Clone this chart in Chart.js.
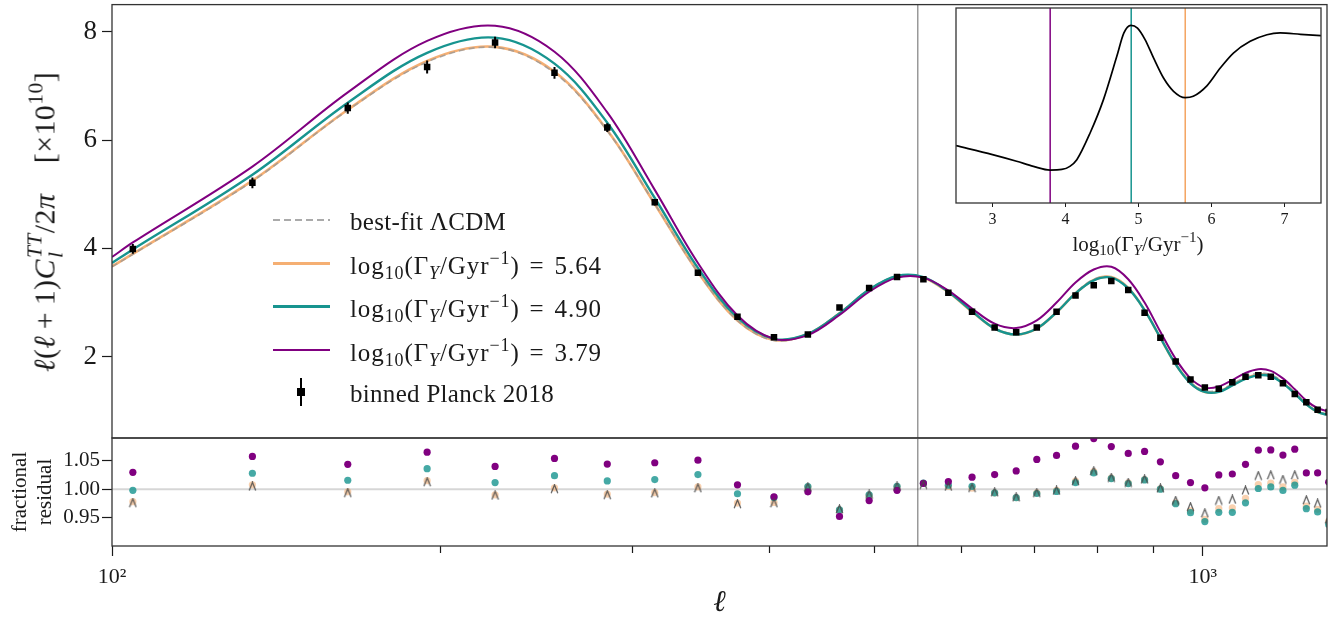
<!DOCTYPE html>
<html>
<head>
<meta charset="utf-8">
<title>CMB TT power spectrum with decaying-species models</title>
<script src="https://cdn.jsdelivr.net/npm/chart.js@4.4.1/dist/chart.umd.min.js"></script>
<style>
  html, body { margin: 0; padding: 0; background: #fff; }
  #fig { position: relative; width: 1342px; height: 620px; overflow: hidden; background: #fff;
         font-family: 'Liberation Serif', 'DejaVu Serif', serif; color: #1a1a1a; }
  #fig canvas { position: absolute; left: 0; top: 0; }
  .txt { position: absolute; white-space: nowrap; line-height: 1; }
  sub, sup { font-size: 0.72em; line-height: 0; }
  sub { vertical-align: -0.3em; }
  sup { vertical-align: 0.55em; }
  .stack { display: inline-block; font-size: 0.72em; line-height: 0.95; vertical-align: -0.35em; margin-left: 1px; }
  .stack span { display: block; }
  .op { margin: 0 0.22em; }
  #ylab { left: 45px; top: 222px; font-size: 30px; letter-spacing: 0.4px; transform: translate(-50%, -50%) rotate(-90deg); }
  #xlabInset { left: 1138px; top: 244px; font-size: 21px; transform: translate(-50%, -50%); }
  #legend { position: absolute; left: 273px; top: 198px; font-size: 25px; letter-spacing: 0.3px; }
  .row { display: flex; align-items: center; height: 43.5px; }
  .sym { width: 57px; height: 28px; position: relative; margin-right: 20px; flex: none; }
  .sym .ln { position: absolute; left: 0; right: 0; top: 12.5px; height: 3px; }
  .sym .bar { position: absolute; left: 27px; top: 0; width: 2px; height: 28px; background: #000; }
  .sym .sq { position: absolute; left: 24px; top: 10px; width: 8px; height: 8px; background: #000; }
  .row .t { padding-top: 5px; white-space: nowrap; }
  .row .t.m { letter-spacing: 0.9px; }
</style>
</head>
<body>
<div id="fig">
  <canvas id="cMain" width="1342" height="620"></canvas>
  <canvas id="cRes" width="1342" height="620"></canvas>
  <canvas id="cInset" width="1342" height="620"></canvas>
  <div class="txt" id="ylab"><i>ℓ</i>(<i>ℓ</i><span class="op">+</span>1)<i>C</i><span class="stack"><span><i>TT</i></span><span><i>l</i></span></span>/2<i>π</i>&emsp;[×10<sup>10</sup>]</div>
  <div class="txt" id="xlabInset">log<sub>10</sub>(Γ<sub><i>Y</i></sub>/Gyr<sup>−1</sup>)</div>
  <div id="legend"></div>
</div>
<script>
// ---- binned Planck 2018 TT bandpowers, l(l+1)C_l/2pi in units of 1e-10 ----
const binEll = [104.5, 134.5, 164.5, 194.5, 224.5, 254.5, 284.5, 314.5, 344.5, 374.5,
                404.5, 434.5, 464.5, 494.5, 524.5, 554.5, 584.5, 614.5, 644.5, 674.5,
                704.5, 734.5, 764.5, 794.5, 824.5, 854.5, 884.5, 914.5, 944.5, 974.5,
                1004.5, 1034.5, 1064.5, 1094.5, 1124.5, 1154.5, 1184.5, 1214.5, 1244.5, 1274.5, 1304.5];
const planckDl = [3.99, 5.21, 6.59, 7.35, 7.80, 7.24, 6.23, 4.85, 3.55, 2.74,
                  2.36, 2.41, 2.91, 3.27, 3.47, 3.43, 3.18, 2.83, 2.54, 2.45,
                  2.54, 2.83, 3.13, 3.32, 3.40, 3.23, 2.81, 2.35, 1.91, 1.58,
                  1.43, 1.41, 1.53, 1.63, 1.66, 1.63, 1.51, 1.31, 1.16, 1.02, 0.98];
const planckErr = [0.09, 0.10, 0.105, 0.12, 0.107, 0.107, 0.08, 0.06, 0.05, 0.045,
                   0.04, 0.04, 0.04, 0.04, 0.04, 0.035, 0.035, 0.035, 0.03, 0.03,
                   0.03, 0.03, 0.03, 0.03, 0.03, 0.03, 0.03, 0.03, 0.03, 0.03,
                   0.03, 0.03, 0.03, 0.03, 0.03, 0.03, 0.03, 0.03, 0.03, 0.03, 0.03];

// ---- theory spectra ----
const curveEll = [100, 104.5, 134.5, 164.5, 194.5, 224.5, 254.5, 284.5, 314.5, 344.5, 374.5,
                  404.5, 434.5, 464.5, 494.5, 524.5, 554.5, 584.5, 614.5, 644.5, 674.5,
                  704.5, 734.5, 764.5, 794.5, 824.5, 854.5, 884.5, 914.5, 944.5, 974.5,
                  1004.5, 1034.5, 1064.5, 1094.5, 1124.5, 1154.5, 1184.5, 1214.5, 1244.5, 1274.5, 1304.5];
const dlLCDM   = [3.66, 3.89, 5.24, 6.55, 7.44, 7.71, 7.24, 6.17, 4.82, 3.56, 2.67,
                  2.30, 2.42, 2.81, 3.24, 3.49, 3.46, 3.19, 2.84, 2.53, 2.42,
                  2.52, 2.82, 3.18, 3.43, 3.47, 3.27, 2.86, 2.35, 1.87, 1.53,
                  1.37, 1.38, 1.50, 1.63, 1.70, 1.67, 1.54, 1.34, 1.14, 0.99, 0.93];
const dlG564   = [3.67, 3.90, 5.25, 6.56, 7.46, 7.72, 7.26, 6.18, 4.82, 3.56, 2.67,
                  2.31, 2.42, 2.80, 3.23, 3.48, 3.46, 3.19, 2.83, 2.52, 2.41,
                  2.52, 2.82, 3.17, 3.42, 3.47, 3.27, 2.86, 2.35, 1.86, 1.52,
                  1.35, 1.36, 1.48, 1.60, 1.67, 1.65, 1.52, 1.33, 1.13, 0.98, 0.93];
const dlG490   = [3.73, 3.98, 5.36, 6.69, 7.61, 7.89, 7.41, 6.32, 4.93, 3.64, 2.72,
                  2.33, 2.42, 2.80, 3.24, 3.49, 3.47, 3.20, 2.84, 2.52, 2.41,
                  2.52, 2.82, 3.17, 3.41, 3.46, 3.26, 2.86, 2.35, 1.86, 1.51,
                  1.35, 1.35, 1.47, 1.59, 1.66, 1.64, 1.51, 1.32, 1.12, 0.98, 0.92];
const dlG379   = [3.84, 4.11, 5.51, 6.88, 7.83, 8.11, 7.63, 6.51, 5.08, 3.73, 2.76,
                  2.33, 2.40, 2.77, 3.20, 3.46, 3.46, 3.22, 2.89, 2.61, 2.53,
                  2.67, 3.00, 3.37, 3.61, 3.66, 3.43, 3.00, 2.46, 1.96, 1.60,
                  1.43, 1.45, 1.57, 1.70, 1.77, 1.74, 1.60, 1.40, 1.19, 1.05, 0.99];

// ---- fractional residuals (model / data) at the bin centres ----
const resLCDM = [0.976, 1.005, 0.9936, 1.0128, 0.989, 1.0006, 0.990, 0.993, 1.002, 0.974,
                 0.9756, 1.0035, 0.965, 0.9907, 1.005, 1.008, 1.0047, 1.0023, 0.9948, 0.986,
                 0.9936, 0.9977, 1.0145, 1.032, 1.0203, 1.0116, 1.0174, 1.0017, 0.980, 0.969,
                 0.958, 0.980, 0.982, 0.998, 1.0238, 1.025, 1.0169, 1.025, 0.981, 0.975, 0.947];
const resG564 = [0.978, 1.0076, 0.9953, 1.015, 0.990, 1.0023, 0.9913, 0.994, 1.004, 0.9756,
                 0.9767, 1.0035, 0.963, 0.989, 1.004, 1.010, 1.0047, 1.0017, 0.9936, 0.985,
                 0.9936, 0.998, 1.014, 1.031, 1.0195, 1.011, 1.017, 1.0006, 0.976, 0.962,
                 0.947, 0.9657, 0.967, 0.984, 1.008, 1.0105, 1.004, 1.012, 0.970, 0.9645, 0.944];
const resG490 = [0.998, 1.028, 1.0157, 1.036, 1.0116, 1.0238, 1.0145, 1.0169, 1.0256, 0.9919,
                 0.9855, 1.0047, 0.9634, 0.990, 1.005, 1.0105, 1.007, 1.005, 0.9936, 0.985,
                 0.9924, 0.996, 1.0116, 1.0285, 1.0186, 1.0099, 1.0163, 1.000, 0.9744, 0.9587,
                 0.943, 0.9593, 0.9593, 0.976, 1.0012, 1.004, 0.9977, 1.007, 0.9657, 0.960, 0.938];
const resG379 = [1.0297, 1.0576, 1.0436, 1.065, 1.040, 1.054, 1.0442, 1.0465, 1.051, 1.0076,
                 0.9866, 0.9953, 0.952, 0.980, 0.998, 1.010, 1.0134, 1.021, 1.0256, 1.032,
                 1.0523, 1.0593, 1.0756, 1.089, 1.075, 1.0628, 1.0663, 1.048, 1.0238, 1.0116,
                 1.0023, 1.025, 1.0267, 1.0436, 1.0686, 1.069, 1.060, 1.0703, 1.0285, 1.0285, 1.0122];

// ---- inset: goodness of fit versus decay rate ----
const insetX = [2.5, 3.0, 3.33, 3.56, 3.79, 3.95, 4.06, 4.155, 4.337, 4.52, 4.703, 4.80, 4.895, 4.986,
                5.09, 5.206, 5.343, 5.48, 5.64, 5.75, 5.94, 6.12, 6.30, 6.53, 6.76, 6.94, 7.22, 7.5];
const insetY = [0.294, 0.248, 0.214, 0.188, 0.169, 0.172, 0.188, 0.222, 0.359, 0.530, 0.752, 0.872, 0.911, 0.897,
                0.838, 0.744, 0.641, 0.573, 0.540, 0.547, 0.602, 0.692, 0.769, 0.829, 0.863, 0.872, 0.865, 0.858];
const gammaValues = [5.64, 4.90, 3.79];

// ---- axes ----
const xRange = [100, 1300];
const xMajorTicks = [100, 1000];
const xMajorLabels = ['10²', '10³'];
const xMinorTicks = [200, 300, 400, 500, 600, 700, 800, 900];
const yMainRange = [0.5, 8.5];
const yMainTicks = [2, 4, 6, 8];
const yResRange = [0.9, 1.09];
const yResTicks = [0.95, 1.00, 1.05];
const insetXRange = [2.5, 7.5];
const insetXTicks = [3, 4, 5, 6, 7];
const markerEll = 548;

// ---- styling ----
const SERIF = "'Liberation Serif', 'DejaVu Serif', serif";
const INK = '#1a1a1a';
const C_ORANGE = 'rgba(244,164,96,0.88)';
const C_TEAL = '#17948f';
const C_PURPLE = '#800080';
const C_GREY = 'rgba(150,150,150,0.75)';
Chart.defaults.font.family = SERIF;
Chart.defaults.color = INK;

const pts = (xs, ys) => xs.map((x, i) => ({ x, y: ys[i] }));

// fixed axis box sizes so the panels line up exactly
const fixWidth = w => s => { s.width = w; s.paddingTop = 0; s.paddingBottom = 0; };
const fixHeight = h => s => { s.height = h; s.paddingLeft = 0; s.paddingRight = 0; };

// small "^" glyph used for the LCDM residual markers
const caret = document.createElement('canvas');
caret.width = 9; caret.height = 10;
(() => {
  const c = caret.getContext('2d');
  c.strokeStyle = 'rgba(70,70,70,0.85)';
  c.lineWidth = 1.3;
  c.beginPath(); c.moveTo(1.2, 9.2); c.lineTo(4.5, 1); c.lineTo(7.8, 9.2); c.stroke();
})();

const framePlugin = {
  id: 'frame',
  afterDraw(chart) {
    const { ctx, chartArea: a } = chart;
    ctx.save();
    ctx.strokeStyle = '#333';
    ctx.lineWidth = 1.3;
    ctx.strokeRect(a.left, a.top, a.right - a.left, a.bottom - a.top);
    ctx.restore();
  }
};

const errorBarPlugin = {
  id: 'errorBars',
  afterDatasetsDraw(chart) {
    const { ctx, chartArea: a, scales: { x, y } } = chart;
    ctx.save();
    ctx.beginPath(); ctx.rect(a.left, a.top, a.right - a.left, a.bottom - a.top); ctx.clip();
    chart.data.datasets.forEach(ds => {
      if (!ds.errorBars) return;
      ctx.strokeStyle = '#000';
      ctx.lineWidth = 2;
      ds.data.forEach((p, i) => {
        const px = x.getPixelForValue(p.x);
        ctx.beginPath();
        ctx.moveTo(px, y.getPixelForValue(p.y - ds.errorBars[i]));
        ctx.lineTo(px, y.getPixelForValue(p.y + ds.errorBars[i]));
        ctx.stroke();
      });
    });
    ctx.restore();
  }
};

const minorTickPlugin = {
  id: 'minorTicks',
  afterDraw(chart) {
    const { ctx, chartArea: a, scales: { x } } = chart;
    ctx.save();
    ctx.strokeStyle = INK;
    ctx.lineWidth = 1.2;
    xMinorTicks.forEach(v => {
      const px = Math.round(x.getPixelForValue(v)) + 0.5;
      ctx.beginPath(); ctx.moveTo(px, a.bottom); ctx.lineTo(px, a.bottom + 7); ctx.stroke();
    });
    ctx.restore();
  }
};

const whiteAreaPlugin = {
  id: 'whiteArea',
  beforeDraw(chart) {
    const { ctx, chartArea: a } = chart;
    ctx.save(); ctx.fillStyle = '#fff';
    ctx.fillRect(a.left, a.top, a.right - a.left, a.bottom - a.top);
    ctx.restore();
  }
};

const baseOpts = {
  responsive: false, animation: false, events: [], devicePixelRatio: 1,
  plugins: { legend: { display: false }, tooltip: { enabled: false } }
};
const yTickGrid = { drawOnChartArea: false, tickLength: 10, tickColor: INK, tickWidth: 1.2 };

const gammaLabel = g => `log<sub>10</sub>(Γ<sub><i>Y</i></sub>/Gyr<sup>−1</sup>)<span class="op" style="margin:0 0.4em">=</span>${g.toFixed(2)}`;
const gammaText = g => `log10(ΓY/Gyr−1) = ${g.toFixed(2)}`;

// ---------- upper panel: spectra ----------
new Chart(document.getElementById('cMain'), {
  type: 'scatter',
  data: {
    datasets: [
      { label: 'binned Planck 2018', data: pts(binEll, planckDl), errorBars: planckErr,
        pointStyle: 'rect', pointRadius: 4.6, backgroundColor: '#000', borderWidth: 0, order: 0, clip: 0 },
      { label: gammaText(gammaValues[2]), data: pts(curveEll, dlG379), showLine: true, pointRadius: 0,
        borderColor: C_PURPLE, borderWidth: 2, tension: 0.35, order: 1, clip: 0 },
      { label: gammaText(gammaValues[1]), data: pts(curveEll, dlG490), showLine: true, pointRadius: 0,
        borderColor: C_TEAL, borderWidth: 2.4, tension: 0.35, order: 2, clip: 0 },
      { label: 'best-fit ΛCDM', data: pts(curveEll, dlLCDM), showLine: true, pointRadius: 0,
        borderColor: C_GREY, borderWidth: 1.6, borderDash: [6, 4], tension: 0.35, order: 3, clip: 0 },
      { label: gammaText(gammaValues[0]), data: pts(curveEll, dlG564), showLine: true, pointRadius: 0,
        borderColor: C_ORANGE, borderWidth: 2.6, tension: 0.35, order: 4, clip: 0 },
      { label: 'marker', data: [{ x: markerEll, y: yMainRange[0] }, { x: markerEll, y: yMainRange[1] }],
        showLine: true, pointRadius: 0, borderColor: '#808080', borderWidth: 1.2, order: 9, clip: 0 }
    ]
  },
  options: {
    ...baseOpts,
    layout: { padding: { left: 0, top: 4, right: 15, bottom: 182 } },
    scales: {
      x: { type: 'logarithmic', min: xRange[0], max: xRange[1], display: false },
      y: {
        min: yMainRange[0], max: yMainRange[1],
        afterBuildTicks: s => { s.ticks = yMainTicks.map(v => ({ value: v })); },
        afterFit: fixWidth(112),
        ticks: { font: { size: 27 }, color: INK, padding: 5, callback: v => String(v) },
        grid: yTickGrid, border: { display: false }
      }
    }
  },
  plugins: [errorBarPlugin, framePlugin]
});

// ---------- lower panel: fractional residuals ----------
new Chart(document.getElementById('cRes'), {
  type: 'scatter',
  data: {
    datasets: [
      { label: 'best-fit ΛCDM', data: pts(binEll, resLCDM), pointStyle: caret, order: 0, clip: 0 },
      { label: gammaText(gammaValues[2]), data: pts(binEll, resG379), pointRadius: 3.6,
        backgroundColor: C_PURPLE, borderWidth: 0, order: 1, clip: 0 },
      { label: gammaText(gammaValues[1]), data: pts(binEll, resG490), pointRadius: 3.6,
        backgroundColor: 'rgba(23,148,143,0.8)', borderWidth: 0, order: 2, clip: 0 },
      { label: gammaText(gammaValues[0]), data: pts(binEll, resG564), pointRadius: 3.6,
        backgroundColor: 'rgba(244,164,96,0.5)', borderWidth: 0, order: 3, clip: 0 },
      { label: 'unity', data: [{ x: xRange[0], y: 1 }, { x: xRange[1], y: 1 }], showLine: true,
        pointRadius: 0, borderColor: 'rgba(0,0,0,0.16)', borderWidth: 2, order: 8, clip: 0 },
      { label: 'marker', data: [{ x: markerEll, y: yResRange[0] }, { x: markerEll, y: yResRange[1] }],
        showLine: true, pointRadius: 0, borderColor: '#808080', borderWidth: 1.2, order: 9, clip: 0 }
    ]
  },
  options: {
    ...baseOpts,
    layout: { padding: { left: 0, top: 438, right: 15, bottom: 0 } },
    scales: {
      x: {
        type: 'logarithmic', min: xRange[0], max: xRange[1],
        afterBuildTicks: s => { s.ticks = xMajorTicks.map(v => ({ value: v, major: true })); },
        afterFit: fixHeight(74),
        ticks: { font: { size: 22 }, color: INK, padding: 8, autoSkip: false, maxRotation: 0,
                 callback: (v, i) => xMajorLabels[i] },
        grid: { drawOnChartArea: false, tickLength: 10, tickColor: INK, tickWidth: 1.2 },
        border: { display: false },
        title: { display: true, text: 'ℓ', font: { size: 30, style: 'italic', lineHeight: 1 },
                 color: INK, padding: { top: 0, bottom: 2 } }
      },
      y: {
        min: yResRange[0], max: yResRange[1],
        afterBuildTicks: s => { s.ticks = yResTicks.map(v => ({ value: v })); },
        afterFit: fixWidth(112),
        ticks: { font: { size: 21 }, color: INK, padding: 2, callback: v => Number(v).toFixed(2) },
        grid: yTickGrid, border: { display: false },
        title: { display: true, text: ['fractional', 'residual'], font: { size: 21, lineHeight: 1.2 },
                 color: INK, padding: { top: 8, bottom: 0 } }
      }
    }
  },
  plugins: [minorTickPlugin, framePlugin]
});

// ---------- inset ----------
const insetColors = ['#f4a460', C_TEAL, C_PURPLE];
new Chart(document.getElementById('cInset'), {
  type: 'scatter',
  data: {
    datasets: [
      { label: 'fit quality', data: pts(insetX, insetY), showLine: true, pointRadius: 0,
        borderColor: '#000', borderWidth: 1.7, cubicInterpolationMode: 'monotone', order: 0, clip: 0 },
      ...gammaValues.map((g, i) => ({
        label: gammaText(g), data: [{ x: g, y: 0 }, { x: g, y: 1 }], showLine: true, pointRadius: 0,
        borderColor: insetColors[i], borderWidth: 1.5, order: 1 + i, clip: 0
      }))
    ]
  },
  options: {
    ...baseOpts,
    layout: { padding: { left: 956, top: 8, right: 21, bottom: 377 } },
    scales: {
      x: {
        type: 'linear', min: insetXRange[0], max: insetXRange[1],
        afterBuildTicks: s => { s.ticks = insetXTicks.map(v => ({ value: v })); },
        afterFit: fixHeight(40),
        ticks: { font: { size: 16 }, color: INK, padding: 3, callback: v => String(v) },
        grid: { drawOnChartArea: false, tickLength: 4, tickColor: INK, tickWidth: 1 },
        border: { display: false }
      },
      y: { display: false, min: 0, max: 1 }
    }
  },
  plugins: [whiteAreaPlugin, framePlugin]
});

// ---------- legend ----------
const legendRows = [
  { sym: '<div class="ln" style="height:2px;top:13px;background:repeating-linear-gradient(90deg,#aaa 0 7px,transparent 7px 11px)"></div>',
    text: 'best-fit ΛCDM', cls: '' },
  ...gammaValues.map((g, i) => ({
    sym: `<div class="ln" style="background:${[C_ORANGE, C_TEAL, C_PURPLE][i]};height:${[3.2, 3.2, 2.6][i]}px"></div>`,
    text: gammaLabel(g), cls: 'm'
  })),
  { sym: '<div class="bar"></div><div class="sq"></div>', text: 'binned Planck 2018', cls: '' }
];
document.getElementById('legend').innerHTML = legendRows.map((r, i) =>
  `<div class="row" style="${i === 4 ? 'height:39.5px' : ''}"><div class="sym">${r.sym}</div><div class="t ${r.cls}">${r.text}</div></div>`
).join('');
</script>
</body>
</html>
